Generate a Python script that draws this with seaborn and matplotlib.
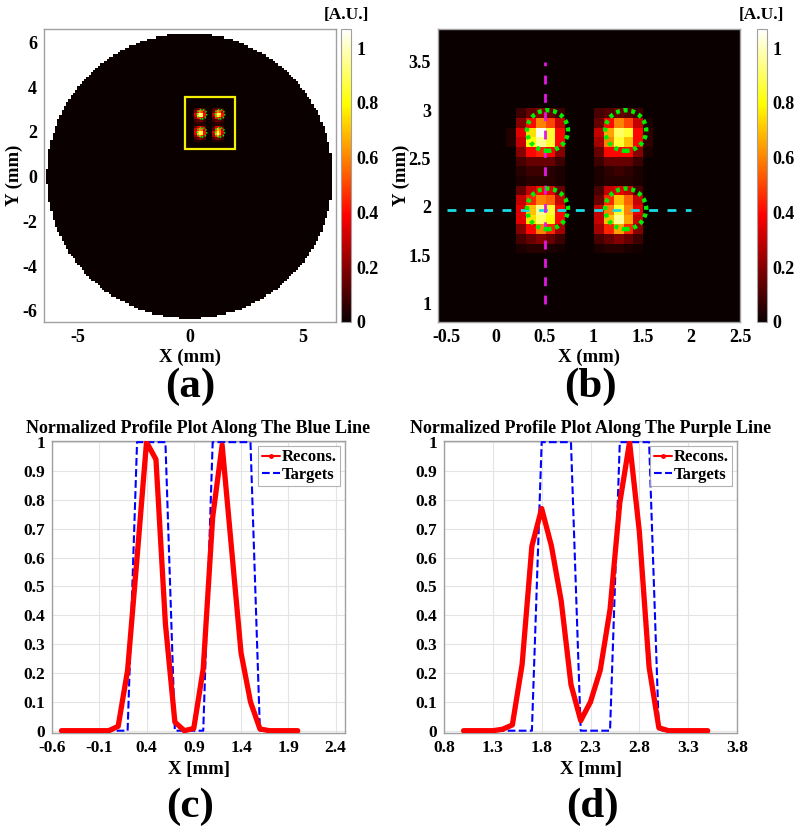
import numpy as np
import pandas as pd
import matplotlib
matplotlib.use("Agg")
import matplotlib.pyplot as plt
import seaborn as sns
from matplotlib.patches import Rectangle, Circle
from matplotlib.lines import Line2D

# ---------------- data ----------------
pixel_mm = 0.1
n_pix = 128
grid_x0 = -6.39
grid_y0 = -6.38
disk_radius = 6.35
clim = (0.0, 1.07)

# reconstructed blobs (rows top -> bottom), anchor = (left x, top y) in mm
blob_ul = [[0.00, 0.08, 0.15, 0.20, 0.15, 0.08],
           [0.00, 0.20, 0.40, 0.60, 0.50, 0.30],
           [0.04, 0.35, 0.75, 1.05, 0.85, 0.40],
           [0.04, 0.30, 0.80, 0.95, 0.85, 0.40],
           [0.00, 0.20, 0.40, 0.45, 0.40, 0.20],
           [0.00, 0.10, 0.15, 0.15, 0.15, 0.08],
           [0.00, 0.05, 0.08, 0.08, 0.05, 0.03]]
blob_ul_anchor = (0.11, 3.02)
blob_ur = [[0.10, 0.12, 0.15, 0.12, 0.08, 0.00],
           [0.15, 0.40, 0.60, 0.50, 0.30, 0.03],
           [0.30, 0.65, 0.90, 0.85, 0.40, 0.06],
           [0.25, 0.60, 0.85, 0.70, 0.40, 0.06],
           [0.15, 0.40, 0.40, 0.40, 0.20, 0.03],
           [0.08, 0.15, 0.15, 0.15, 0.08, 0.00],
           [0.03, 0.06, 0.08, 0.06, 0.03, 0.00]]
blob_ur_anchor = (1.01, 3.02)
blob_ll = [[0.03, 0.05, 0.05, 0.05, 0.03],
           [0.15, 0.30, 0.40, 0.35, 0.15],
           [0.30, 0.45, 0.60, 0.55, 0.30],
           [0.35, 0.70, 0.95, 0.85, 0.40],
           [0.35, 0.75, 0.90, 0.80, 0.40],
           [0.20, 0.40, 0.60, 0.45, 0.25],
           [0.10, 0.15, 0.20, 0.15, 0.08],
           [0.03, 0.05, 0.05, 0.03, 0.02]]
blob_ll_anchor = (0.21, 2.32)
blob_lr = [[0.03, 0.05, 0.05, 0.05, 0.03],
           [0.10, 0.30, 0.35, 0.30, 0.10],
           [0.15, 0.45, 0.70, 0.55, 0.30],
           [0.30, 0.60, 0.85, 0.60, 0.35],
           [0.30, 0.70, 0.95, 0.65, 0.30],
           [0.25, 0.45, 0.65, 0.45, 0.20],
           [0.10, 0.15, 0.20, 0.15, 0.08],
           [0.03, 0.05, 0.05, 0.03, 0.02]]
blob_lr_anchor = (1.01, 2.32)

target_cx = [0.53, 1.33, 0.53, 1.33]
target_cy = [2.79, 2.79, 1.98, 1.98]
target_r = 0.21

zoom_box = (-0.22, 1.23, 2.22, 2.34)   # x, y, w, h
blue_line_x = [-0.5, 2.0]
blue_line_y = [1.97, 1.97]
purple_line_x = [0.5, 0.5]
purple_line_y = [1.0, 3.5]

# profile along blue line
prof_c_x = [-0.5, -0.4, -0.3, -0.2, -0.1, 0.0, 0.1, 0.2, 0.3, 0.4, 0.5, 0.6, 0.7,
            0.8, 0.9, 1.0, 1.1, 1.2, 1.3, 1.4, 1.5, 1.6, 1.7, 1.8, 1.9, 2.0]
prof_c_rec = [0, 0, 0, 0, 0, 0.0, 0.015, 0.21, 0.60, 1.0, 0.94, 0.37, 0.03,
              0.0, 0.008, 0.215, 0.74, 0.99, 0.63, 0.27, 0.10, 0.006, 0, 0, 0, 0]
prof_c_tgt = [0, 0, 0, 0, 0, 0, 0, 0, 1, 1, 1, 1, 0,
              0, 0, 0, 1, 1, 1, 1, 1, 0, 0, 0, 0, 0]
# profile along purple line
prof_d_x = [1.0, 1.1, 1.2, 1.3, 1.4, 1.5, 1.6, 1.7, 1.8, 1.9, 2.0, 2.1, 2.2,
            2.3, 2.4, 2.5, 2.6, 2.7, 2.8, 2.9, 3.0, 3.1, 3.2, 3.3, 3.4, 3.5]
prof_d_rec = [0, 0, 0, 0, 0.005, 0.02, 0.23, 0.64, 0.77, 0.64, 0.45, 0.16, 0.035,
              0.10, 0.21, 0.42, 0.79, 1.0, 0.69, 0.22, 0.01, 0, 0, 0, 0, 0]
prof_d_tgt = [0, 0, 0, 0, 0, 0, 0, 0, 1, 1, 1, 1, 0,
              0, 0, 0, 1, 1, 1, 1, 0, 0, 0, 0, 0, 0]

cbar_ticks = [0, 0.2, 0.4, 0.6, 0.8, 1]
cbar_labels = ["0", "0.2", "0.4", "0.6", "0.8", "1"]
a_xticks = [-5, 0, 5]
a_xlabels = ["-5", "0", "5"]
a_yticks = [-6, -4, -2, 0, 2, 4, 6]
a_ylabels = ["-6", "-4", "-2", "0", "2", "4", "6"]
b_xticks = [-0.5, 0, 0.5, 1, 1.5, 2, 2.5]
b_xlabels = ["-0.5", "0", "0.5", "1", "1.5", "2", "2.5"]
b_yticks = [1, 1.5, 2, 2.5, 3, 3.5]
b_ylabels = ["1", "1.5", "2", "2.5", "3", "3.5"]
c_xticks = [-0.6, -0.1, 0.4, 0.9, 1.4, 1.9, 2.4]
c_xlabels = ["-0.6", "-0.1", "0.4", "0.9", "1.4", "1.9", "2.4"]
d_xticks = [0.8, 1.3, 1.8, 2.3, 2.8, 3.3, 3.8]
d_xlabels = ["0.8", "1.3", "1.8", "2.3", "2.8", "3.3", "3.8"]
prof_yticks = [0, 0.1, 0.2, 0.3, 0.4, 0.5, 0.6, 0.7, 0.8, 0.9, 1]
prof_ylabels = ["0", "0.1", "0.2", "0.3", "0.4", "0.5", "0.6", "0.7", "0.8", "0.9", "1"]

# ---------------- style ----------------
sns.set_style("white")
plt.rcParams['font.family'] = ['Liberation Serif', 'DejaVu Serif']
plt.rcParams['font.weight'] = 'bold'
plt.rcParams['axes.labelweight'] = 'bold'
plt.rcParams['axes.titleweight'] = 'bold'
plt.rcParams['axes.unicode_minus'] = False
plt.rcParams['xtick.direction'] = 'in'
plt.rcParams['ytick.direction'] = 'in'
plt.rcParams['text.color'] = 'black'
plt.rcParams['axes.labelcolor'] = 'black'
plt.rcParams['xtick.labelcolor'] = 'black'
plt.rcParams['ytick.labelcolor'] = 'black'

edge_gray = '#a0a0a0'

# ---------------- image ----------------
img = np.zeros((n_pix, n_pix))
cx = grid_x0 + (np.arange(n_pix) + 0.5) * pixel_mm
cy = grid_y0 + (np.arange(n_pix) + 0.5) * pixel_mm
XX, YY = np.meshgrid(cx, cy)
for patch, (xl, yt) in [(blob_ul, blob_ul_anchor), (blob_ur, blob_ur_anchor),
                        (blob_ll, blob_ll_anchor), (blob_lr, blob_lr_anchor)]:
    c0 = int(round((xl - grid_x0) / pixel_mm))
    r0 = int(round((yt - grid_y0) / pixel_mm)) - 1
    for k, row in enumerate(patch):
        img[r0 - k, c0:c0 + len(row)] = row
img[XX ** 2 + YY ** 2 > disk_radius ** 2] = np.nan
extent = [grid_x0, grid_x0 + n_pix * pixel_mm, grid_y0, grid_y0 + n_pix * pixel_mm]

cmap = plt.get_cmap('hot').copy()
cmap.set_bad('white')

fig = plt.figure(figsize=(8, 8.36), dpi=100)
W, H = 800, 836


def ax_px(x0, x1, y0, y1):
    return fig.add_axes([x0 / W, 1 - y1 / H, (x1 - x0) / W, (y1 - y0) / H])


def style_box(ax):
    for s in ax.spines.values():
        s.set_color(edge_gray)
        s.set_linewidth(1.0)
    ax.tick_params(length=4, width=0.8, color=edge_gray, labelcolor='black', pad=5)


def add_cbar(im, cax):
    cb = fig.colorbar(im, cax=cax, ticks=cbar_ticks)
    cb.ax.set_yticklabels(cbar_labels)
    cb.ax.tick_params(labelsize=13, length=3, color=edge_gray, labelcolor='black',
                      direction='in', pad=4)
    cb.outline.set_edgecolor(edge_gray)
    return cb


# panel (a)
axa = ax_px(44, 336, 29, 322)
im = axa.imshow(img, origin='lower', extent=extent, cmap=cmap, vmin=clim[0], vmax=clim[1],
                interpolation='nearest', aspect='auto')
axa.set_xlim(-6.5, 6.5)
axa.set_ylim(-6.5, 6.6)
axa.add_patch(Rectangle((zoom_box[0], zoom_box[1]), zoom_box[2], zoom_box[3], fill=False,
                        edgecolor='#f5f000', lw=1.6, zorder=5))
for x, y in zip(target_cx, target_cy):
    axa.add_patch(Circle((x, y), target_r, fill=False, edgecolor='#00ee00', lw=1.1,
                         linestyle=(0, (1, 1)), zorder=6))
axa.set_xticks(a_xticks)
axa.set_xticklabels(a_xlabels)
axa.set_yticks(a_yticks)
axa.set_yticklabels(a_ylabels)
style_box(axa)
axa.tick_params(labelsize=13)
axa.set_xlabel("X (mm)", fontsize=13.5)
axa.set_ylabel("Y (mm)", fontsize=13.5)
axa.xaxis.set_label_coords(0.5, -(349 - 322) / 293)
axa.yaxis.set_label_coords(-(44 - 23) / 292, 0.5)
add_cbar(im, ax_px(341, 351, 29, 322))
fig.text(346 / W, 1 - 15 / H, "[A.U.]", ha='center', va='center', fontsize=12.5, fontweight='bold')

# panel (b)
axb = ax_px(438, 740, 29, 322)
axb.imshow(img, origin='lower', extent=extent, cmap=cmap, vmin=clim[0], vmax=clim[1],
           interpolation='nearest', aspect='auto')
axb.set_xlim(-0.59, 2.5)
axb.set_ylim(0.81, 3.84)
axb.plot(blue_line_x, blue_line_y, color='#18dce6', lw=2.0, dashes=(3.2, 3.4), zorder=5)
axb.plot(purple_line_x, purple_line_y, color='#e418e4', lw=2.0, dashes=(3.2, 3.4), zorder=5)
for x, y in zip(target_cx, target_cy):
    axb.add_patch(Circle((x, y), target_r, fill=False, edgecolor='#00ee00', lw=3.2,
                         linestyle=(0, (0.9, 0.85)), zorder=6))
axb.set_xticks(b_xticks)
axb.set_xticklabels(b_xlabels)
axb.set_yticks(b_yticks)
axb.set_yticklabels(b_ylabels)
style_box(axb)
axb.tick_params(labelsize=13)
axb.set_xlabel("X (mm)", fontsize=13.5)
axb.set_ylabel("Y (mm)", fontsize=13.5)
axb.xaxis.set_label_coords(0.5, -(349 - 322) / 293)
axb.yaxis.set_label_coords(-(438 - 410) / 302, 0.5)
add_cbar(im, ax_px(757, 767, 29, 322))
fig.text(761 / W, 1 - 15 / H, "[A.U.]", ha='center', va='center', fontsize=12.5, fontweight='bold')

fig.text(190 / W, 1 - 387 / H, "(a)", ha='center', va='center', fontsize=31, fontweight='bold')
fig.text(590 / W, 1 - 387 / H, "(b)", ha='center', va='center', fontsize=31, fontweight='bold')


# panels (c), (d)
def profile_panel(ax, xs, rec, tgt, title, xticks, xlabels, xlim):
    df = pd.DataFrame({"x": xs, "rec": rec, "tgt": tgt})
    ax.grid(True, color='#e4e4e4', lw=0.8)
    ax.set_axisbelow(True)
    sns.lineplot(data=df, x="x", y="tgt", ax=ax, color='blue', lw=1.5, linestyle='--', zorder=3)
    sns.lineplot(data=df, x="x", y="rec", ax=ax, color='red', lw=3.8, marker='.', markersize=4,
                 markeredgewidth=0, zorder=4)
    ax.set_xlim(*xlim)
    ax.set_ylim(-0.008, 1.004)
    ax.set_xticks(xticks)
    ax.set_xticklabels(xlabels)
    ax.set_yticks(prof_yticks)
    ax.set_yticklabels(prof_ylabels)
    style_box(ax)
    ax.tick_params(labelsize=12.5)
    ax.set_xlabel("X [mm]", fontsize=13.5)
    ax.xaxis.set_label_coords(0.5, -(761 - 733) / 292)
    ax.set_ylabel("")
    ax.set_title(title, fontsize=13, pad=6)
    handles = [Line2D([], [], color='red', lw=1.5, marker='.', markersize=5),
               Line2D([], [], color='blue', lw=1.5, linestyle='--')]
    leg = ax.legend(handles, ["Recons.", "Targets"], loc='upper right', fontsize=12,
                    handlelength=1.1, handletextpad=0.1, borderpad=0.2, labelspacing=0.1,
                    borderaxespad=0.3, frameon=True, fancybox=False)
    leg.get_frame().set_edgecolor(edge_gray)
    leg.get_frame().set_linewidth(0.8)
    for t in leg.get_texts():
        t.set_color('black')


axc = ax_px(52, 345, 441, 733)
profile_panel(axc, prof_c_x, prof_c_rec, prof_c_tgt,
              "Normalized Profile Plot Along The Blue Line", c_xticks, c_xlabels, (-0.6, 2.5))
axd = ax_px(444, 737, 441, 733)
profile_panel(axd, prof_d_x, prof_d_rec, prof_d_tgt,
              "Normalized Profile Plot Along The Purple Line", d_xticks, d_xlabels, (0.8, 3.8))

fig.text(190 / W, 1 - 807 / H, "(c)", ha='center', va='center', fontsize=31, fontweight='bold')
fig.text(592 / W, 1 - 807 / H, "(d)", ha='center', va='center', fontsize=31, fontweight='bold')

fig.savefig("out.png", dpi=100)
